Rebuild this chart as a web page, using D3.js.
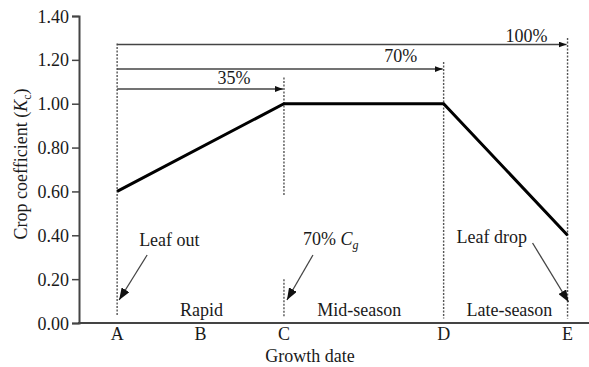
<!DOCTYPE html>
<html>
<head>
<meta charset="utf-8">
<script src="https://cdn.jsdelivr.net/npm/d3@7"></script>
<style>
  html, body { margin: 0; padding: 0; background: #fff; }
  svg { display: block; }
  text { font-family: "Liberation Serif", "Times New Roman", serif; fill: #1a1a1a; }
</style>
</head>
<body>
<svg id="chart" width="589" height="367"></svg>
<script>
// ---- data ----
const stages = ["A", "B", "C", "D", "E"];
const stageDay = [0, 17.5, 35, 68.5, 94.5];
const kcDay = [0, 35, 68.5, 94.5];
const kcValues = [0.60, 1.00, 1.00, 0.40];
const yTicks = [0, 0.2, 0.4, 0.6, 0.8, 1.0, 1.2, 1.4];
const phaseLabels = ["Rapid", "Mid-season", "Late-season"];
const phaseCenterDay = [17.7, 50.8, 82.3];
const pctLabels = ["35%", "70%", "100%"];
const pctEndDay = [35, 68.5, 94.5];
const pctLevel = [1.067, 1.158, 1.27];
// dotted guide lines: [day, from value, to value]
const guideDay = [0, 35, 35, 68.5, 94.5];
const guideTop = [1.275, 1.12, 0.2, 1.19, 1.30];
const guideBottom = [0.035, 0.58, 0.03, 0.02, 0.02];

// ---- layout ----
const svg = d3.select("#chart");
const x = d3.scaleLinear().domain([-8, 99]).range([79, 589]);
const y = d3.scaleLinear().domain([0, 1.4]).range([323, 16]);

const defs = svg.append("defs");
function marker(id, len, wid) {
  defs.append("marker").attr("id", id)
    .attr("markerUnits", "userSpaceOnUse")
    .attr("viewBox", `0 0 ${len} ${wid}`)
    .attr("refX", len).attr("refY", wid / 2)
    .attr("markerWidth", len).attr("markerHeight", wid)
    .attr("orient", "auto")
    .append("path").attr("d", `M0,0L${len},${wid / 2}L0,${wid}Z`).attr("fill", "#111");
}
marker("arrSmall", 8, 6);
marker("arrBig", 12, 9);

// y axis
const yAxis = svg.append("g").attr("transform", `translate(${x(-8)},0)`)
  .call(d3.axisLeft(y).tickValues(yTicks).tickFormat(d3.format(".2f")).tickSizeOuter(0).tickSize(7).tickPadding(3));
yAxis.select(".domain").attr("stroke", "#444").attr("stroke-width", 2);
yAxis.selectAll(".tick line").attr("stroke", "#444").attr("stroke-width", 1.5);
yAxis.selectAll("text").style("font-size", "18px").style("font-family", "Liberation Serif").attr("fill", "#1a1a1a").attr("dy", "0.34em");

// x axis line
svg.append("line").attr("x1", x(-8) - 1).attr("x2", x(99)).attr("y1", y(0)).attr("y2", y(0))
  .attr("stroke", "#444").attr("stroke-width", 2);

// x labels
svg.selectAll(".xl").data(stages).join("text").attr("class", "xl")
  .attr("x", (d, i) => x(stageDay[i])).attr("y", 340)
  .attr("text-anchor", "middle").style("font-size", "18px").text(d => d);

// axis titles
svg.append("text").attr("x", 310).attr("y", 362).attr("text-anchor", "middle")
  .style("font-size", "18px").text("Growth date");
const yt = svg.append("text").attr("transform", "translate(27,164) rotate(-90)")
  .attr("text-anchor", "middle").style("font-size", "18px");
yt.append("tspan").text("Crop coefficient (");
yt.append("tspan").style("font-style", "italic").text("K");
yt.append("tspan").attr("dy", 4).style("font-size", "12px").text("c");
yt.append("tspan").attr("dy", -4).text(")");

// guide dotted lines
svg.selectAll(".guide").data(guideDay).join("line").attr("class", "guide")
  .attr("x1", d => x(d)).attr("x2", d => x(d))
  .attr("y1", (d, i) => y(guideTop[i])).attr("y2", (d, i) => y(guideBottom[i]))
  .attr("stroke", "#555").attr("stroke-width", 1.4).attr("stroke-dasharray", "2,1.5");

// percent arrows
svg.selectAll(".pct").data(pctEndDay).join("line").attr("class", "pct")
  .attr("x1", x(0)).attr("x2", d => x(d) - 1)
  .attr("y1", (d, i) => y(pctLevel[i])).attr("y2", (d, i) => y(pctLevel[i]))
  .attr("stroke", "#444").attr("stroke-width", 1.5).attr("marker-end", "url(#arrSmall)");
const pctDy = [-5, -7, -3];
const pctDx = [-50, -43, -41];
svg.selectAll(".pctl").data(pctLabels).join("text").attr("class", "pctl")
  .attr("x", (d, i) => x(pctEndDay[i]) + pctDx[i]).attr("y", (d, i) => y(pctLevel[i]) + pctDy[i])
  .attr("text-anchor", "middle").style("font-size", "18px").text(d => d);

// Kc line
svg.append("path").datum(kcValues)
  .attr("d", d3.line().x((d, i) => x(kcDay[i])).y(d => y(d)))
  .attr("fill", "none").attr("stroke", "#000").attr("stroke-width", 3).attr("stroke-linejoin", "miter");

// phase labels
svg.selectAll(".ph").data(phaseLabels).join("text").attr("class", "ph")
  .attr("x", (d, i) => x(phaseCenterDay[i])).attr("y", 316)
  .attr("text-anchor", "middle").style("font-size", "18px").text(d => d);

// annotations
function annArrow(x1, y1, x2, y2) {
  svg.append("line").attr("x1", x1).attr("y1", y1).attr("x2", x2).attr("y2", y2)
    .attr("stroke", "#444").attr("stroke-width", 1.3).attr("marker-end", "url(#arrBig)");
}
annArrow(x(0) + 30, 255, x(0) + 2, 300);
svg.append("text").attr("x", x(0) + 22).attr("y", 246).style("font-size", "18px").text("Leaf out");

annArrow(x(35) + 29, 255, x(35) + 3, 300);
const cg = svg.append("text").attr("x", x(35) + 19).attr("y", 245).style("font-size", "18px");
cg.append("tspan").text("70% ");
cg.append("tspan").style("font-style", "italic").text("C");
cg.append("tspan").attr("dy", 4).style("font-size", "12px").style("font-style", "italic").text("g");

annArrow(x(94.5) - 35, 243, x(94.5) + 1, 302);
svg.append("text").attr("x", x(94.5) - 111).attr("y", 243).style("font-size", "18px").text("Leaf drop");
</script>
</body>
</html>
